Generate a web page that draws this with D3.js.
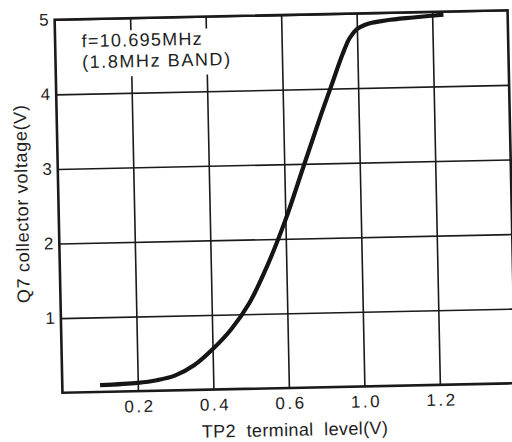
<!DOCTYPE html>
<html>
<head>
<meta charset="utf-8">
<script src="https://cdn.jsdelivr.net/npm/d3@7/dist/d3.min.js"></script>
<style>
  html, body { margin: 0; padding: 0; background: #fff; }
  svg { display: block; }
  text { font-family: "Liberation Sans", Arial, sans-serif; fill: #1e1e1e; white-space: pre; }
</style>
</head>
<body>
<svg id="chart" width="512" height="442"></svg>
<script>
// ---- data ----
const xTickValues = [0.2, 0.4, 0.6, 0.8, 1.0];
const xTickLabels = ["0.2", "0.4", "0.6", "1.0", "1.2"];   // as printed on the original
const yTickValues = [1, 2, 3, 4, 5];
const yTickLabels = ["1", "2", "3", "4", "5"];
const curveX = [0.10, 0.20, 0.25, 0.30, 0.35, 0.40, 0.45, 0.50, 0.55, 0.60, 0.65, 0.70, 0.73, 0.76, 0.78, 0.80, 0.83, 0.88, 0.95, 1.03];
const curveY = [0.09, 0.11, 0.14, 0.20, 0.33, 0.54, 0.80, 1.15, 1.65, 2.25, 2.95, 3.65, 4.05, 4.45, 4.67, 4.79, 4.86, 4.90, 4.93, 4.96];
const noteLines = ["f=10.695MHz", "(1.8MHz BAND)"];
const xTitle = "TP2  terminal  level(V)";
const yTitle = "Q7 collector voltage(V)";

// ---- layout ----
const L = 58.5, T = 15, W = 453, H = 373;
const svg = d3.select("#chart");
const g = svg.append("g").attr("transform", `rotate(-1.2, ${L + W / 2}, ${T + H / 2})`);

const x = d3.scaleLinear().domain([0, 1.2]).range([L, L + W]);
const y = d3.scaleLinear().domain([0, 5]).range([T + H, T]);

// vertical grid + x tick labels
const xAxis = d3.axisBottom(x)
  .tickValues(xTickValues)
  .tickSize(-H)
  .tickPadding(0)
  .tickFormat((d, i) => xTickLabels[i]);
const gx = g.append("g").attr("transform", `translate(0,${T + H})`).call(xAxis);
gx.select(".domain").remove();
gx.selectAll(".tick line").attr("stroke", "#1a1a1a").attr("stroke-width", 1.6);
gx.selectAll(".tick text")
  .attr("y", 21).attr("dy", null)
  .attr("font-size", 17)
  .attr("letter-spacing", 2.5)
  .attr("dx", 1.2)
  .style("font-family", "'Liberation Sans', Arial, sans-serif")
  .attr("fill", "#1e1e1e");

// horizontal grid + y tick labels
const yAxis = d3.axisLeft(y)
  .tickValues(yTickValues)
  .tickSize(-W)
  .tickPadding(0)
  .tickFormat((d, i) => yTickLabels[i]);
const gy = g.append("g").attr("transform", `translate(${L},0)`).call(yAxis);
gy.select(".domain").remove();
gy.selectAll(".tick line").attr("stroke", "#1a1a1a").attr("stroke-width", 1.6);
gy.selectAll(".tick text")
  .attr("x", -6).attr("dy", "0.3em")
  .attr("font-size", 17)
  .style("font-family", "'Liberation Sans', Arial, sans-serif")
  .attr("fill", "#1e1e1e");

// white box behind the note
g.append("rect")
  .attr("x", 76).attr("y", 27).attr("width", 160).attr("height", 46)
  .attr("fill", "#fff");

// frame
g.append("rect")
  .attr("x", L).attr("y", T).attr("width", W).attr("height", H)
  .attr("fill", "none").attr("stroke", "#1a1a1a").attr("stroke-width", 2.6);

// note text
g.append("text").attr("x", 85).attr("y", 43)
  .attr("font-size", 18).attr("textLength", 120).attr("lengthAdjust", "spacing")
  .text(noteLines[0]);
g.append("text").attr("x", 85).attr("y", 64)
  .attr("font-size", 18).attr("textLength", 148).attr("lengthAdjust", "spacing")
  .text(noteLines[1]);

// curve
const pts = curveX.map((v, i) => [v, curveY[i]]);
const line = d3.line().x(d => x(d[0])).y(d => y(d[1])).curve(d3.curveCatmullRom.alpha(0.5));
g.append("path").datum(pts)
  .attr("d", line)
  .attr("fill", "none").attr("stroke", "#151515").attr("stroke-width", 4.2)
  .attr("stroke-linecap", "butt").attr("stroke-linejoin", "round");

// axis titles
g.append("text")
  .attr("x", 290).attr("y", 436)
  .attr("text-anchor", "middle")
  .attr("font-size", 18).attr("textLength", 186).attr("lengthAdjust", "spacing")
  .text(xTitle);
g.append("text")
  .attr("transform", "translate(28,198.6) rotate(-90)")
  .attr("text-anchor", "middle")
  .attr("font-size", 18).attr("textLength", 198).attr("lengthAdjust", "spacing")
  .text(yTitle);
</script>
</body>
</html>
